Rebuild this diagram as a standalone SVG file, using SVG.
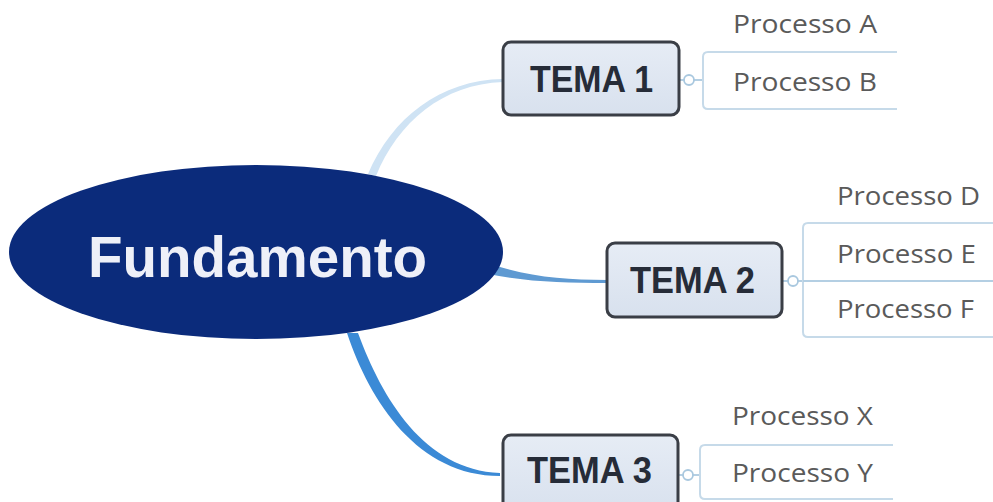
<svg xmlns="http://www.w3.org/2000/svg" width="993" height="502" viewBox="0 0 993 502">
<defs>
<linearGradient id="tg" x1="0" y1="0" x2="0" y2="1">
<stop offset="0" stop-color="#e6ecf5"/>
<stop offset="1" stop-color="#d8e1ee"/>
</linearGradient>
</defs>
<style>
.tema{fill:url(#tg);stroke:#3a3e46;stroke-width:3}
.temat{font-family:"Liberation Sans",Arial,sans-serif;font-weight:bold;font-size:37px;fill:#262c38}
.proc{font-family:"Open Sans","Noto Sans",sans-serif;font-size:26px;fill:#5a5a5a}
.pbox{fill:#ffffff;stroke:#c6dae9;stroke-width:2}
.plink{stroke:#b4cfe3;stroke-width:2;fill:none}
.knob{fill:#ffffff;stroke:#a9c8df;stroke-width:1.8}
</style>
<rect width="993" height="502" fill="#ffffff"/>
<g id="connectors">
<path d="M368,174 C392,118 440,80 503,79 L503,82 C443,84 398,122 376,176 Z" fill="#cfe3f4"/>
<path d="M490,264 C530,277 565,280 607,280 L607,283 C565,283 528,282 488,274 Z" fill="#5f9ad2"/>
<path d="M347,333 C370,402 418,476 500,476 L500,473 C424,470 382,398 358,333 Z" fill="#3b8ad6"/>
<path class="plink" d="M679,80 H703"/>
<path class="plink" d="M782,281 H803"/>
<path class="plink" d="M678,475 H700"/>
</g>
<g id="root">
<ellipse cx="256" cy="252" rx="247" ry="87" fill="#0b2b7b"/>
<text x="88" y="277" textLength="339" lengthAdjust="spacingAndGlyphs" font-family="Liberation Sans, Arial, sans-serif" font-weight="bold" font-size="58" fill="#eef0f8">Fundamento</text>
</g>
<g id="tema1">
<rect class="tema" x="503" y="42" width="176" height="73" rx="8"/>
<text class="temat" x="530" y="92" textLength="123" lengthAdjust="spacingAndGlyphs">TEMA 1</text>
<circle class="knob" cx="689" cy="80" r="5"/>
</g>
<g id="tema2">
<rect class="tema" x="607" y="243" width="175" height="74" rx="8"/>
<text class="temat" x="630" y="293" textLength="125" lengthAdjust="spacingAndGlyphs">TEMA 2</text>
<circle class="knob" cx="793" cy="281" r="5"/>
</g>
<g id="tema3">
<rect class="tema" x="503" y="435" width="175" height="80" rx="8"/>
<text class="temat" x="527" y="483" textLength="125" lengthAdjust="spacingAndGlyphs">TEMA 3</text>
<circle class="knob" cx="688" cy="475" r="5"/>
</g>
<g id="proc-a">
<text class="proc" x="733" y="33" textLength="144" lengthAdjust="spacingAndGlyphs">Processo A</text>
</g>
<g id="proc-b">
<path class="pbox" d="M897,52 H708 Q703,52 703,57 V104 Q703,109 708,109 H897"/>
<text class="proc" x="733" y="91" textLength="144" lengthAdjust="spacingAndGlyphs">Processo B</text>
</g>
<g id="proc-d">
<text class="proc" x="837" y="205" textLength="143" lengthAdjust="spacingAndGlyphs">Processo D</text>
</g>
<g id="proc-e">
<path class="pbox" d="M995,223 H808 Q803,223 803,228 V332 Q803,337 808,337 H995"/>
<path class="plink" d="M803,281 H995"/>
<text class="proc" x="837" y="263" textLength="139" lengthAdjust="spacingAndGlyphs">Processo E</text>
</g>
<g id="proc-f">
<text class="proc" x="837" y="318" textLength="137" lengthAdjust="spacingAndGlyphs">Processo F</text>
</g>
<g id="proc-x">
<text class="proc" x="732" y="425" textLength="141" lengthAdjust="spacingAndGlyphs">Processo X</text>
</g>
<g id="proc-y">
<path class="pbox" d="M893,445 H705 Q700,445 700,450 V494 Q700,499 705,499 H893"/>
<text class="proc" x="732" y="482" textLength="141" lengthAdjust="spacingAndGlyphs">Processo Y</text>
</g>
</svg>
